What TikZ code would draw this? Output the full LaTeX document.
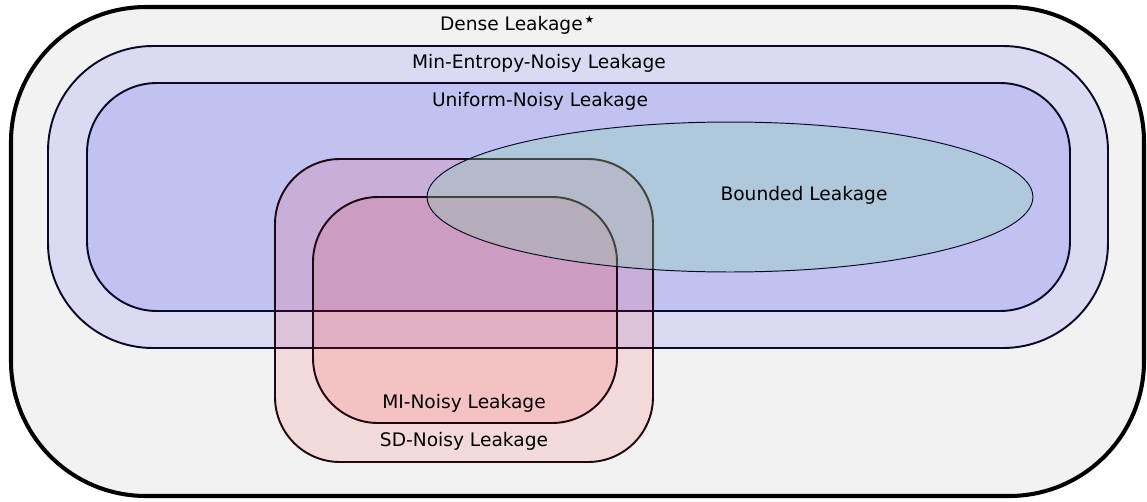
\documentclass[tikz,border=0pt]{standalone}
\usepackage{fontspec}
\setmainfont{DejaVu Sans}
\definecolor{densegray}{RGB}{242,242,242}
\definecolor{minentblue}{RGB}{218,218,242}
\definecolor{unifblue}{RGB}{194,194,242}
\definecolor{bndgreen}{RGB}{134,214,169}
\definecolor{navyline}{RGB}{10,10,40}
\definecolor{wineline}{RGB}{32,8,16}
\begin{document}
\begin{tikzpicture}[x=0.02cm,y=-0.02cm,
  region/.style={line width=1.1pt,draw=navyline},
  noisy/.style={line width=1.1pt,draw=wineline,fill=red,fill opacity=0.1,draw opacity=1},
  lbl/.style={font=\fontsize{10.6}{12}\selectfont,inner sep=0pt}]
\useasboundingbox (0,0) rectangle (1147,501);
%\draw[step=50,gray,very thin] (0,0) grid (1147,501); %background grid
\filldraw[fill=densegray, draw=black, line width=2.3pt, rounded corners=2.7cm] (11,7) rectangle (1144,496);
\filldraw[region, fill=minentblue, rounded corners=2.1cm] (48,46) rectangle (1108,348);
\filldraw[region, fill=unifblue, rounded corners=1.4cm] (87,83) rectangle (1070,311);
\filldraw[noisy, rounded corners=1.3cm] (275,159) rectangle (653,462);
\filldraw[noisy, rounded corners=1.3cm] (313,197) rectangle (617,423);
\filldraw[fill=bndgreen, fill opacity=0.3, draw=navyline, line width=0.55pt] (730,197) ellipse [x radius=6.06cm, y radius=1.5cm];
\node[lbl] (dense) at (518,25) {Dense Leakage\raisebox{0.2em}{\fontsize{12}{12}\selectfont ⋆}};
\node[lbl] (minent) at (539,63) {Min-Entropy-Noisy Leakage};
\node[lbl] (unif) at (540,101) {Uniform-Noisy Leakage};
\node[lbl] (bnd) at (804,195) {Bounded Leakage};
\node[lbl] (mi) at (464,403) {MI-Noisy Leakage};
\node[lbl] (sd) at (464,441) {SD-Noisy Leakage};
\end{tikzpicture}
\end{document}
